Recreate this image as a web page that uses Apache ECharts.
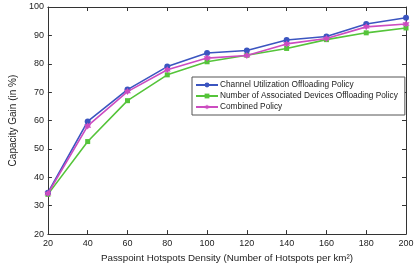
<!DOCTYPE html>
<html><head><meta charset="utf-8">
<script src="https://cdn.jsdelivr.net/npm/echarts@6/dist/echarts.min.js"></script>
<style>html,body{margin:0;padding:0;background:#fff}#c{width:417px;height:268px}</style>
</head><body><div id="c"></div>
<script>
const densities = [20, 40, 60, 80, 100, 120, 140, 160, 180, 200];
const channelUtil = [34.6, 59.7, 70.9, 79.0, 83.8, 84.7, 88.4, 89.6, 94.0, 96.2];
const assocDevices = [34.0, 52.6, 67.0, 76.1, 80.7, 83.0, 85.4, 88.5, 90.9, 92.6];
const combined = [34.3, 58.1, 70.2, 77.9, 82.0, 82.9, 87.0, 88.9, 93.0, 94.0];
const seriesNames = ['Channel Utilization Offloading Policy', 'Number of Associated Devices Offloading Policy', 'Combined Policy'];
const xTitle = 'Passpoint Hotspots Density (Number of Hotspots per km²)';
const yTitle = 'Capacity Gain (in %)';

const star = 'path://M0,-10 L2.9,-5 L8.7,-5 L5.8,0 L8.7,5 L2.9,5 L0,10 L-2.9,5 L-8.7,5 L-5.8,0 L-8.7,-5 L-2.9,-5 Z';
const font = 'Liberation Sans, Arial, sans-serif';
const chart = echarts.init(document.getElementById('c'));
const mk = (arr) => densities.map((d, i) => [d, arr[i]]);
const axisCommon = {
  axisLine: {show: true, onZero: false, lineStyle: {color: '#333', width: 1}},
  axisTick: {show: true, inside: true, length: 4, lineStyle: {color: '#333'}},
  splitLine: {show: false}
};
chart.setOption({
  animation: false,
  backgroundColor: '#fff',
  grid: {left: 39, right: 11, top: 7, bottom: 33},
  legend: {
    orient: 'vertical', left: 192, top: 77,
    itemWidth: 22, itemHeight: 6, itemGap: 3,
    padding: [4, 7, 4, 3],
    borderColor: '#555', borderWidth: 1, backgroundColor: '#fff',
    textStyle: {fontFamily: font, fontSize: 8.3, color: '#222', padding: [0, 0, 0, -3]},
    data: seriesNames
  },
  xAxis: [
    Object.assign({type: 'value', min: 20, max: 200, interval: 20, position: 'bottom',
      name: xTitle, nameLocation: 'middle', nameGap: 18,
      nameTextStyle: {fontFamily: font, fontSize: 9.8, color: '#222'},
      axisLabel: {fontFamily: font, fontSize: 9, color: '#222', margin: 5}}, axisCommon),
    Object.assign({type: 'value', min: 20, max: 200, interval: 20, position: 'top',
      axisLabel: {show: false}}, axisCommon)
  ],
  yAxis: [
    Object.assign({type: 'value', min: 20, max: 100, interval: 10, position: 'left',
      name: yTitle, nameLocation: 'middle', nameGap: 24,
      nameTextStyle: {fontFamily: font, fontSize: 10, color: '#222'},
      axisLabel: {fontFamily: font, fontSize: 9, color: '#222', margin: 4}}, axisCommon),
    Object.assign({type: 'value', min: 20, max: 100, interval: 10, position: 'right',
      axisLabel: {show: false}}, axisCommon)
  ],
  series: [
    {name: seriesNames[0], type: 'line', data: mk(channelUtil), symbol: 'circle', symbolSize: 6,
      color: '#3b55c0', lineStyle: {width: 1.6}, z: 3},
    {name: seriesNames[1], type: 'line', data: mk(assocDevices), symbol: 'rect', symbolSize: 5,
      color: '#55c43a', lineStyle: {width: 1.6}, z: 2},
    {name: seriesNames[2], type: 'line', data: mk(combined), symbol: star, symbolSize: 7,
      color: '#cc4cc0', lineStyle: {width: 1.6}, z: 4}
  ]
});
</script></body></html>
